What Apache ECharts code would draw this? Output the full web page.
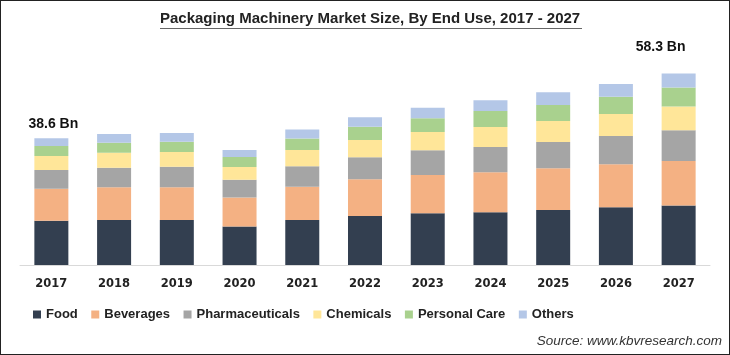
<!DOCTYPE html>
<html>
<head>
<meta charset="utf-8">
<script src="https://cdn.jsdelivr.net/npm/echarts@6/dist/echarts.min.js"></script>
<style>
html,body{margin:0;padding:0;background:#fff;}
#wrap{position:relative;width:730px;height:355px;}
#chart{width:730px;height:355px;}
#frame{position:absolute;left:0;top:0;width:730px;height:355px;box-sizing:border-box;border:1px solid #222;pointer-events:none;}
</style>
</head>
<body>
<div id="wrap"><div id="chart"></div><div id="frame"></div></div>
<script>
const years = ['2017','2018','2019','2020','2021','2022','2023','2024','2025','2026','2027'];
const food            = [13.5, 13.7, 13.7, 11.7, 13.7, 14.9, 15.75, 16.05, 16.75, 17.6, 18.1];
const beverages       = [9.75, 9.96, 9.96, 8.84, 10.1, 11.2, 11.67, 12.2, 12.7, 13.1, 13.6];
const pharmaceuticals = [5.7, 5.97, 6.28, 5.4, 6.3, 6.7, 7.52, 7.7, 8.0, 8.6, 9.35];
const chemicals       = [4.26, 4.57, 4.47, 3.87, 4.9, 5.27, 5.57, 6.1, 6.4, 6.7, 7.2];
const personalCare    = [3.05, 3.05, 3.14, 3.05, 3.56, 4.05, 4.17, 4.87, 4.87, 5.27, 5.8];
const others          = [2.34, 2.65, 2.65, 2.13, 2.74, 2.86, 3.23, 3.26, 3.87, 3.87, 4.25];
const totalLabels     = {'2017': '38.6 Bn', '2027': '58.3 Bn'};

const seriesNames = ['Food','Beverages','Pharmaceuticals','Chemicals','Personal Care','Others'];
const seriesData = [food, beverages, pharmaceuticals, chemicals, personalCare, others];
const colors = ['#333F50','#F4B183','#A5A5A5','#FFE699','#A9D18E','#B4C7E7'];

const labelStyle = {show:true, position:'top', color:'#111', fontFamily:'Liberation Sans, Arial, sans-serif', fontWeight:'bold', fontSize:14};
const labelTweaks = {'2017': {distance:7, offset:[2,0]}, '2027': {distance:19, offset:[-18,0]}};

const series = seriesNames.map((name, si) => ({
  name: name,
  type: 'bar',
  stack: 'total',
  barWidth: 34,
  itemStyle: {color: colors[si]},
  emphasis: {disabled: true},
  data: seriesData[si].map((v, i) => {
    const y = years[i];
    if (si === seriesNames.length - 1 && totalLabels[y]) {
      return {value: v, label: Object.assign({}, labelStyle, labelTweaks[y], {formatter: totalLabels[y]})};
    }
    return v;
  })
}));

const chart = echarts.init(document.getElementById('chart'), null, {renderer:'canvas'});
chart.setOption({
  animation: false,
  backgroundColor: '#fff',
  title: {
    text: 'Packaging Machinery Market Size, By End Use, 2017 - 2027',
    left: 160, top: 11,
    padding: 0,
    textStyle: {fontFamily:'Liberation Sans, Arial, sans-serif', fontWeight:'bold', fontSize:15, color:'#222'}
  },
  graphic: [
    {type:'rect', shape:{x:160, y:28, width:422, height:1}, style:{fill:'#666'}, silent:true},
    {type:'text', right:8, top:334, style:{text:'Source: www.kbvresearch.com', font:'italic 13.5px "Liberation Sans", Arial, sans-serif', fill:'#333'}, silent:true}
  ],
  legend: {
    data: seriesNames,
    left: 33, top: 308,
    padding: 0,
    itemWidth: 8, itemHeight: 8, itemGap: 13.5,
    icon: 'rect',
    selectedMode: false,
    textStyle: {fontFamily:'Liberation Sans, Arial, sans-serif', fontWeight:'bold', fontSize:13, color:'#222'}
  },
  grid: {left:20, right:20, top:68, bottom:90, containLabel:false},
  xAxis: {
    type: 'category',
    data: years,
    axisLine: {show:true, lineStyle:{color:'#D9D9D9', width:1}},
    axisTick: {show:false},
    axisLabel: {margin:13, color:'#222', fontFamily:'DejaVu Sans, sans-serif', fontWeight:'bold', fontSize:11.5}
  },
  yAxis: {type:'value', min:0, max:60, show:false, splitLine:{show:false}},
  series: series
});
</script>
</body>
</html>
